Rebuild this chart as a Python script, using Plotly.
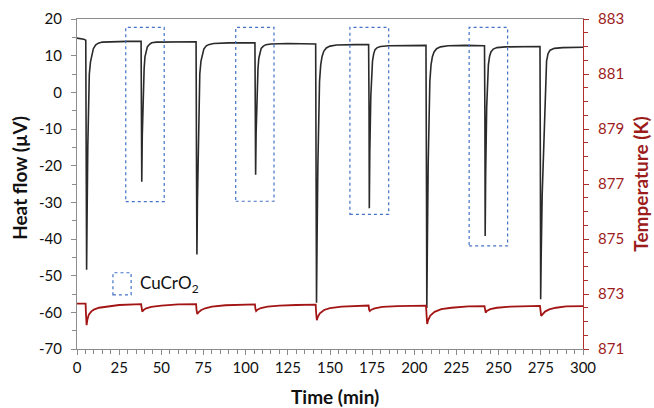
import plotly.graph_objects as go

# ---------------- data ----------------
# Heat flow (µV) vs time (min)
time_hf = [
    0, 2, 4, 5.2, 5.45, 5.7, 5.95, 6.4, 6.9, 7.3, 8.0, 8.7, 9.7, 11.0, 12.6, 15, 20, 30, 38.0,
    38.2, 38.4, 38.7, 39.3, 39.8, 40.3, 41.0, 41.7, 43, 44.3, 47, 55, 65, 70.6,
    70.85, 71.1, 71.4, 71.9, 72.4, 72.8, 73.5, 74.2, 75.2, 76.5, 78, 81, 90, 105.5,
    105.75, 105.9, 106.2, 106.8, 107.3, 107.8, 108.5, 109.2, 110.5, 112, 115, 125, 141.5,
    141.8, 142.0, 142.3, 142.8, 143.3, 143.8, 144.5, 145.3, 146.3, 147.8, 150, 154, 165, 172.9,
    173.15, 173.3, 173.6, 174.2, 174.7, 175.2, 175.9, 176.7, 178, 180, 185, 195, 206.9,
    207.2, 207.4, 207.7, 208.2, 208.7, 209.2, 209.9, 210.7, 211.7, 213.2, 215.5, 220, 230, 241.6,
    241.85, 242.0, 242.3, 242.9, 243.4, 243.9, 244.6, 245.4, 246.8, 249, 254, 265, 274.5,
    274.75, 274.9, 275.2, 275.8, 276.4, 277.2, 277.8, 278.4, 279.3, 280.5, 283, 288, 300,
]
heat_flow = [
    14.8, 14.7, 14.5, 14.2, -20, -48.4, -35, -15, -2, 5.0, 8.3, 9.7, 11.9, 12.9, 13.4, 13.7, 13.8, 13.9, 13.9,
    0, -24.4, -12, 1.5, 6.5, 9.7, 11.5, 12.4, 13.1, 13.5, 13.7, 13.8, 13.8, 13.8,
    -20, -44.2, -30, -12, -1, 5, 8.5, 10.3, 11.8, 12.6, 13.0, 13.3, 13.5, 13.5,
    -2, -22.5, -11, 1.5, 6.5, 9.3, 11.0, 12.0, 12.6, 13.0, 13.2, 13.3, 13.2,
    -25, -57.4, -42, -20, -5, 3, 7.5, 9.8, 11.2, 12.1, 12.6, 12.9, 13.0, 13.0,
    -5, -31.6, -16, -1, 5, 8.5, 10.5, 11.6, 12.2, 12.5, 12.7, 12.8, 12.8,
    -25, -58.8, -43, -20, -5, 3, 7.5, 9.7, 11.0, 11.9, 12.4, 12.7, 12.8, 12.7,
    -8, -39.2, -22, -4, 3.5, 7.5, 9.8, 11.0, 11.8, 12.2, 12.4, 12.5, 12.5,
    -25, -56.4, -45, -28, -18, -5, 3, 8.5, 10.6, 11.5, 12.0, 12.2, 12.3,
]

# Temperature (K) vs time (min)
time_t = [
    0, 5.1, 5.3, 5.7, 6.1, 7, 8.5, 10, 13, 18, 25, 38.0,
    38.3, 38.7, 39.5, 41, 44, 50, 60, 70.6,
    70.9, 71.3, 72, 73.5, 76, 80, 88, 100, 105.5,
    105.8, 106.2, 107, 109, 113, 120, 130, 141.5,
    141.8, 142.2, 142.8, 144, 146.5, 150, 157, 165, 172.9,
    173.2, 173.6, 174.5, 176.5, 181, 190, 206.9,
    207.2, 207.6, 208.2, 209.5, 212, 216, 222, 232, 241.6,
    241.9, 242.3, 243, 245, 249, 257, 274.5,
    274.8, 275.2, 276, 277.5, 280, 284, 290, 300,
]
temperature = [
    872.65, 872.65, 872.3, 871.87, 872.05, 872.25, 872.37, 872.43, 872.5, 872.55, 872.6, 872.63,
    872.42, 872.36, 872.42, 872.48, 872.53, 872.58, 872.62, 872.63,
    872.4, 872.27, 872.33, 872.41, 872.48, 872.54, 872.59, 872.62, 872.62,
    872.45, 872.38, 872.43, 872.49, 872.54, 872.58, 872.6, 872.61,
    872.3, 872.05, 872.17, 872.3, 872.42, 872.49, 872.54, 872.57, 872.58,
    872.43, 872.38, 872.43, 872.48, 872.53, 872.56, 872.58,
    872.3, 871.91, 872.05, 872.22, 872.35, 872.45, 872.5, 872.55, 872.56,
    872.4, 872.32, 872.38, 872.45, 872.5, 872.54, 872.57,
    872.35, 872.2, 872.26, 872.36, 872.44, 872.5, 872.55, 872.56,
]

# CuCrO2 dashed boxes: [t_start, t_end, heat_flow_low, heat_flow_high]
box_t0 = [28.9, 94.1, 161.8, 232.5]
box_t1 = [51.7, 116.8, 184.8, 255.3]
box_low = [-29.8, -29.7, -33.3, -41.9]
box_high = [17.7, 17.7, 17.7, 17.7]

# tick labels
x_ticks = [0, 25, 50, 75, 100, 125, 150, 175, 200, 225, 250, 275, 300]
x_ticktext = ["0", "25", "50", "75", "100", "125", "150", "175", "200", "225", "250", "275", "300"]
hf_ticks = [20, 10, 0, -10, -20, -30, -40, -50, -60, -70]
hf_ticktext = ["20", "10", "0", "-10", "-20", "-30", "-40", "-50", "-60", "-70"]
temp_ticks = [871, 873, 875, 877, 879, 881, 883]
temp_ticktext = ["871", "873", "875", "877", "879", "881", "883"]

legend_label = "CuCrO<sub>2</sub>"
x_title = "Time (min)"
hf_title = "Heat flow (µV)"
temp_title = "Temperature (K)"

# ---------------- figure ----------------
FONT = "Lato, 'Open Sans', sans-serif"
RED = "#9C1C1C"
LINE_RED = "#A31515"
GREY_AX = "#8C8C8C"
AX_RED = "#B03030"
BLUE = "#4472C4"
INK = "#111111"

fig = go.Figure()
fig.add_trace(go.Scatter(x=time_hf, y=heat_flow, mode="lines",
                         line=dict(color="#2A2A2A", width=1.6), yaxis="y",
                         showlegend=False))
fig.add_trace(go.Scatter(x=time_t, y=temperature, mode="lines",
                         line=dict(color=LINE_RED, width=1.8), yaxis="y2",
                         showlegend=False))

for a, b, lo, hi in zip(box_t0, box_t1, box_low, box_high):
    fig.add_shape(type="rect", xref="x", yref="y", x0=a, x1=b, y0=lo, y1=hi,
                  line=dict(color=BLUE, width=1.2, dash="dot"), fillcolor="rgba(0,0,0,0)")

# legend sample box + label
fig.add_shape(type="rect", xref="paper", yref="paper", x0=0.071, x1=0.107, y0=0.164, y1=0.231,
              line=dict(color=BLUE, width=1.2, dash="dot"))
fig.add_annotation(xref="paper", yref="paper", x=0.121, y=0.198, xanchor="left", yanchor="middle",
                   text=legend_label, showarrow=False,
                   font=dict(family=FONT, size=17, color=INK))

# axis titles as annotations (exact placement)
fig.add_annotation(xref="paper", yref="paper", x=0.509, y=-0.145, xanchor="center", yanchor="middle",
                   text="<b>%s</b>" % x_title, showarrow=False,
                   font=dict(family=FONT, size=19, color=INK))
fig.add_annotation(xref="paper", yref="paper", x=-0.115, y=0.518, xanchor="center", yanchor="middle",
                   text="<b>%s</b>" % hf_title, showarrow=False, textangle=-90,
                   font=dict(family=FONT, size=19, color=INK))
fig.add_annotation(xref="paper", yref="paper", x=1.112, y=0.5, xanchor="center", yanchor="middle",
                   text="<b>%s</b>" % temp_title, showarrow=False, textangle=-90,
                   font=dict(family=FONT, size=19, color=RED))

fig.update_layout(
    width=654, height=408,
    margin=dict(l=77, r=71, t=19, b=59, autoexpand=False),
    paper_bgcolor="white", plot_bgcolor="white",
    font=dict(family=FONT, size=15, color=INK),
    xaxis=dict(range=[0, 300], tickvals=x_ticks, ticktext=x_ticktext,
               showgrid=False, zeroline=False, automargin=False,
               showline=True, linecolor=GREY_AX, linewidth=1.2, mirror=True,
               ticks="outside", ticklen=5, tickcolor=GREY_AX,
               minor=dict(dtick=5, tick0=0, ticks="outside", ticklen=4, tickcolor=GREY_AX),
               tickfont=dict(family=FONT, size=15, color=INK)),
    yaxis=dict(range=[-70, 20], tickvals=hf_ticks, ticktext=hf_ticktext,
               showgrid=False, zeroline=False, automargin=False,
               showline=True, linecolor=GREY_AX, linewidth=1.2,
               ticks="outside", ticklen=5, tickcolor=GREY_AX,
               minor=dict(dtick=5, tick0=0, ticks="outside", ticklen=4, tickcolor=GREY_AX),
               ticklabelstandoff=6,
               tickfont=dict(family=FONT, size=15, color=INK)),
    yaxis2=dict(range=[871, 883], tickvals=temp_ticks, ticktext=temp_ticktext,
                overlaying="y", side="right",
                showgrid=False, zeroline=False, automargin=False,
                showline=True, linecolor=AX_RED, linewidth=1.2,
                ticks="outside", ticklen=5, tickcolor=AX_RED,
                minor=dict(dtick=0.5, tick0=871, ticks="outside", ticklen=4, tickcolor=AX_RED),
                ticklabelstandoff=6,
                tickfont=dict(family=FONT, size=15, color=RED)),
)

fig.write_html("out.html", config={"displayModeBar": False},
               post_script="document.body.style.margin='0';document.body.style.overflow='hidden';")
